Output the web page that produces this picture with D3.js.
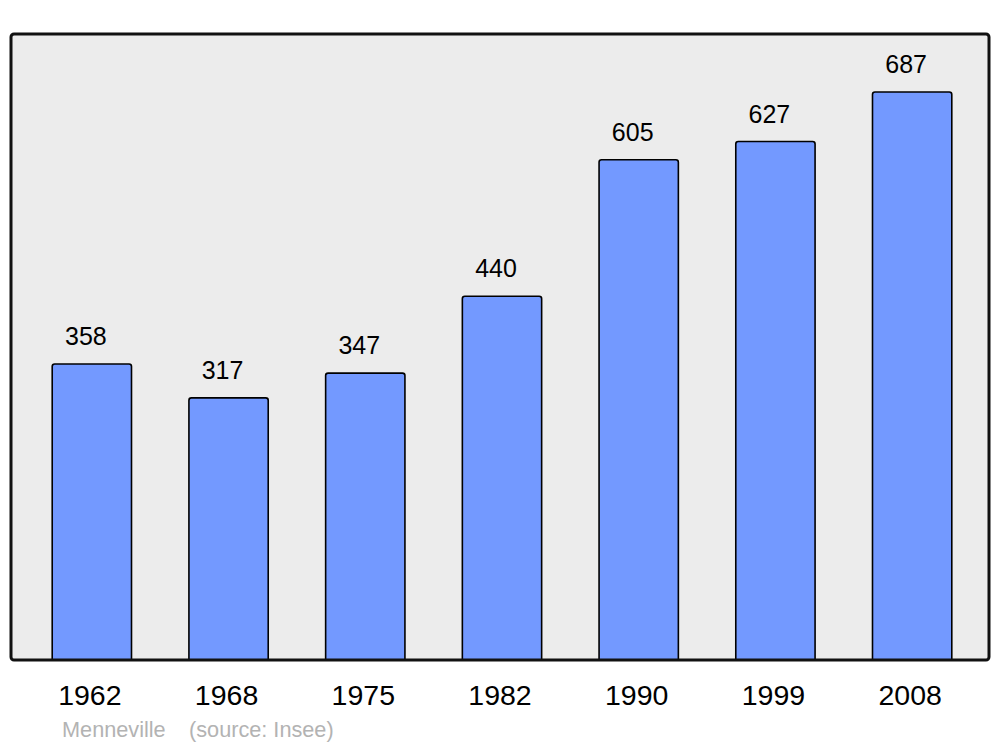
<!DOCTYPE html>
<html>
<head>
<meta charset="utf-8">
<script src="https://cdn.jsdelivr.net/npm/d3@7"></script>
<style>
  body { margin: 0; background: #fff; }
  text { font-family: "Liberation Sans", Arial, sans-serif; }
</style>
</head>
<body>
<svg width="1000" height="747"></svg>
<script>
const years  = ["1962", "1968", "1975", "1982", "1990", "1999", "2008"];
const values = [358, 317, 347, 440, 605, 627, 687];
const town   = "Menneville";
const source = "(source: Insee)";

const svg = d3.select("svg");

// panel box
const panel = { left: 11, top: 34, right: 989, bottom: 660 };

const x = d3.scaleBand()
  .domain(years)
  .range([23.5, 980.5])
  .paddingInner(0.42)
  .paddingOuter(0.21);

const y = d3.scaleLinear()
  .domain([0, d3.max(values) * 1.102])
  .range([panel.bottom, panel.top]);

svg.append("rect")
  .attr("x", panel.left)
  .attr("y", panel.top)
  .attr("width", panel.right - panel.left)
  .attr("height", panel.bottom - panel.top)
  .attr("rx", 3)
  .style("fill", "#ececec")
  .style("stroke", "none");

const data = years.map((yr, i) => ({ year: yr, value: values[i] }));

// bars with rounded top corners
function barPath(d) {
  const x0 = x(d.year), w = x.bandwidth();
  const y0 = y(d.value), y1 = panel.bottom, r = 2.5;
  return `M${x0},${y1} V${y0 + r} Q${x0},${y0} ${x0 + r},${y0} H${x0 + w - r} Q${x0 + w},${y0} ${x0 + w},${y0 + r} V${y1}`;
}

svg.append("g").selectAll("path.bar")
  .data(data)
  .enter()
  .append("path")
  .attr("class", "bar")
  .attr("d", barPath)
  .style("fill", "#7399ff")
  .style("stroke", "#000")
  .style("stroke-width", 1.6);

// value labels
svg.append("g").selectAll("text.val")
  .data(data)
  .enter()
  .append("text")
  .attr("class", "val")
  .attr("x", d => x(d.year) + x.bandwidth() / 2 - 6)
  .attr("y", d => y(d.value) - 19)
  .attr("text-anchor", "middle")
  .style("font-size", "25px")
  .style("fill", "#000")
  .text(d => d.value);

// panel border on top
svg.append("rect")
  .attr("x", panel.left)
  .attr("y", panel.top)
  .attr("width", panel.right - panel.left)
  .attr("height", panel.bottom - panel.top)
  .attr("rx", 3)
  .style("fill", "none")
  .style("stroke", "#111")
  .style("stroke-width", 3);

// year labels
svg.append("g").selectAll("text.year")
  .data(years)
  .enter()
  .append("text")
  .attr("class", "year")
  .attr("x", d => x(d) + x.bandwidth() / 2 - 2)
  .attr("y", 705)
  .attr("text-anchor", "middle")
  .style("font-size", "28.5px")
  .style("fill", "#000")
  .text(d => d);

svg.append("text")
  .attr("x", 62)
  .attr("y", 737)
  .style("font-size", "21.7px")
  .style("fill", "#b3b3b3")
  .text(town);

svg.append("text")
  .attr("x", 189)
  .attr("y", 737)
  .style("font-size", "21.7px")
  .style("fill", "#b3b3b3")
  .text(source);
</script>
</body>
</html>
